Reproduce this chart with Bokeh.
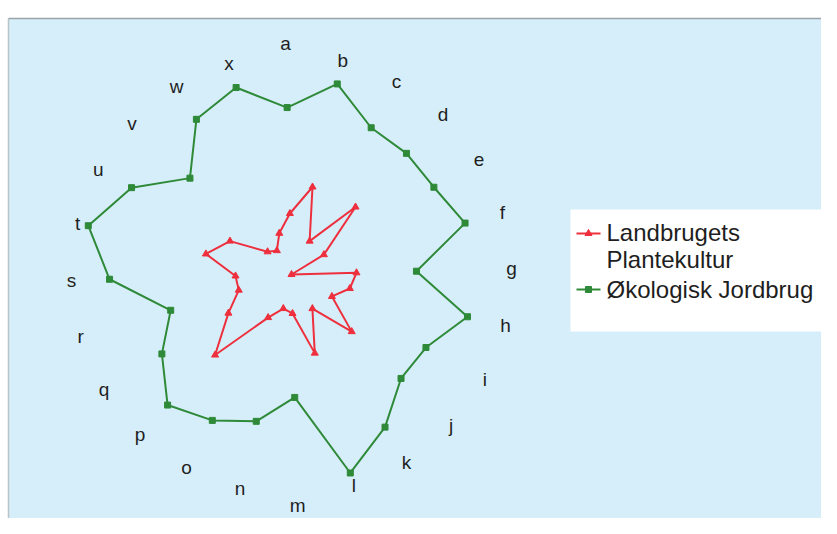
import math
from bokeh.plotting import figure
from bokeh.models import Range1d
from bokeh.core.properties import value
from bokeh.embed import file_html
from bokeh.resources import INLINE

categories = list("abcdefghijklmnopqrstuvwx")
landbrugets = [61, 90, 38, 93, 38, 0, 65, 60, 46, 83, 40, 82,
               39, 35, 49, 111, 74, 55, 56, 88, 70, 33, 28, 43]
okologisk = [167, 196, 167, 167, 167, 181, 125, 181, 153, 151, 179, 207,
             123, 151, 166, 180, 152, 126, 182, 209, 182, 140, 182, 195]
series_names = ["Landbrugets", "Plantekultur", "Økologisk Jordbrug"]

LABEL_R = 220
LABEL_R_VERTICAL = 231   # labels straight above / below sit a little further out
ROT = -1.5  # scan tilt in degrees

def polar(vals):
    n = len(vals)
    xs, ys = [], []
    for i, v in enumerate(vals):
        th = math.radians(i * 360.0 / n + ROT)
        xs.append(v * math.sin(th))
        ys.append(v * math.cos(th))
    return xs, ys

W, H = 821, 518
cx, cy = 291, 274   # radar centre, in figure pixels
p = figure(width=W, height=H, output_backend="svg", toolbar_location=None,
           x_range=Range1d(-cx, W - cx), y_range=Range1d(-(H - cy), cy),
           min_border=0, outline_line_color=None, background_fill_color="white",
           border_fill_color="white")
p.axis.visible = False
p.grid.visible = False

def X(px):
    return px - cx

def Y(py):
    return cy - py

# light-blue panel
p.quad(left=X(8), right=X(W + 5), top=Y(18), bottom=Y(519),
       fill_color="#d6eef9", line_color=None)
p.line(x=[X(8), X(8)], y=[Y(18), Y(519)], line_color="#b8c4c8", line_width=1.5)
p.line(x=[X(8), X(W)], y=[Y(18), Y(18)], line_color="#9aa4a8", line_width=1.5)
p.line(x=[X(8), X(W)], y=[Y(519), Y(519)], line_color="#c0c8cc", line_width=1.5)

# category labels
n = len(categories)
label_r = [LABEL_R_VERTICAL if (i * 360 // n) % 180 == 0 else LABEL_R for i in range(n)]
lx, ly = polar(label_r)
p.text(x=lx, y=ly, text=categories, text_align="center", text_baseline="middle",
       text_font=value("Liberation Sans"), text_font_size="19px", text_color="#1e1e1e")

green = "#2e8a38"
red = "#ee2f3d"

gx, gy = polar(okologisk)
p.line(x=gx + gx[:1], y=gy + gy[:1], line_color=green, line_width=2)
p.scatter(x=gx, y=gy, marker="square", size=6, fill_color=green, line_color=green)

rx, ry = polar(landbrugets)
p.line(x=rx + rx[:1], y=ry + ry[:1], line_color=red, line_width=2)
p.scatter(x=rx, y=ry, marker="triangle", size=7, fill_color=red, line_color=red)

# legend box
p.quad(left=X(570), right=X(826), top=Y(209), bottom=Y(331),
       fill_color="white", line_color=None)
p.line(x=[X(576), X(600)], y=[Y(233), Y(233)], line_color=red, line_width=2)
p.scatter(x=[X(588)], y=[Y(233)], marker="triangle", size=7, fill_color=red, line_color=red)
p.line(x=[X(576), X(600)], y=[Y(289), Y(289)], line_color=green, line_width=2)
p.scatter(x=[X(588)], y=[Y(289)], marker="square", size=6, fill_color=green, line_color=green)
p.text(x=[X(606), X(606), X(606)], y=[Y(232), Y(259), Y(289)], text=series_names,
       text_align="left", text_baseline="middle",
       text_font=value("Liberation Sans"), text_font_size="24px", text_color="#1e1e1e")

open("out.html", "w").write(file_html(p, INLINE))
